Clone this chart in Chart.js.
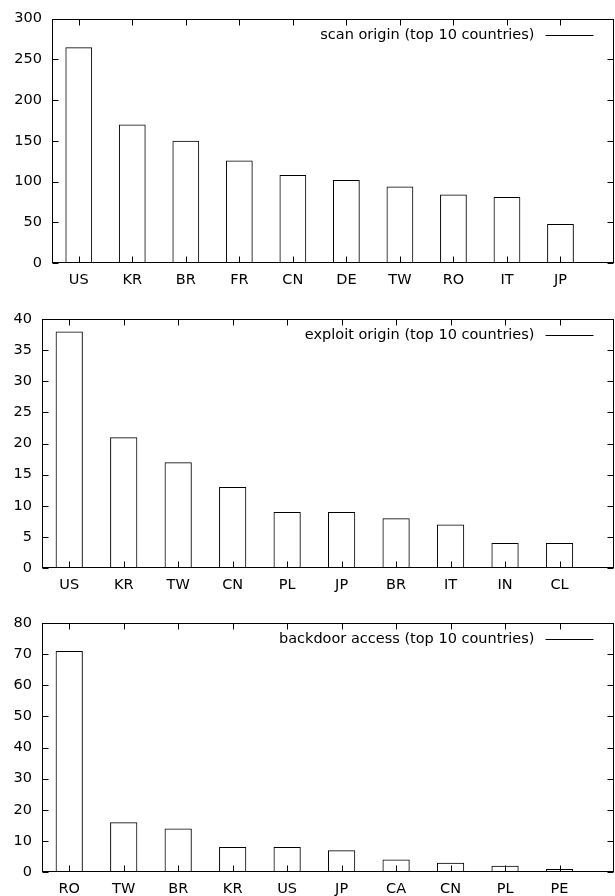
<!DOCTYPE html>
<html>
<head>
<meta charset="utf-8">
<script src="https://cdn.jsdelivr.net/npm/chart.js@4"></script>
<style>
body { margin: 0; background: #fff; }
#page { position: relative; width: 615px; height: 896px; overflow: hidden; }
.panel { position: absolute; left: 0; width: 615px; }
</style>
</head>
<body>
<div id="page">
	<div class="panel" style="top:0;height:290px"><canvas id="scan"></canvas></div>
	<div class="panel" style="top:300px;height:300px"><canvas id="exploit"></canvas></div>
	<div class="panel" style="top:600px;height:296px"><canvas id="backdoor"></canvas></div>
</div>
<script>
var scanCountries = ['US', 'KR', 'BR', 'FR', 'CN', 'DE', 'TW', 'RO', 'IT', 'JP'];
var scanCounts = [265, 170, 150, 126, 108, 102, 94, 84, 81, 48];
var scanTicks = [0, 50, 100, 150, 200, 250, 300];

var exploitCountries = ['US', 'KR', 'TW', 'CN', 'PL', 'JP', 'BR', 'IT', 'IN', 'CL'];
var exploitCounts = [38, 21, 17, 13, 9, 9, 8, 7, 4, 4];
var exploitTicks = [0, 5, 10, 15, 20, 25, 30, 35, 40];

var backdoorCountries = ['RO', 'TW', 'BR', 'KR', 'US', 'JP', 'CA', 'CN', 'PL', 'PE'];
var backdoorCounts = [71, 16, 14, 8, 8, 7, 4, 3, 2, 1];
var backdoorTicks = [0, 10, 20, 30, 40, 50, 60, 70, 80];

var FONT = { family: "'DejaVu Sans', sans-serif", size: 14.5 };

// gnuplot style frame: box border, inward mirrored ticks, key at top right
var frame = {
	id: 'frame',
	afterDatasetsDraw: function (chart) {
		var ctx = chart.ctx;
		var area = chart.chartArea;
		var xs = chart.scales.x, ys = chart.scales.y;
		var L = Math.round(area.left) + 0.5, R = Math.round(area.right) - 0.5;
		var T = Math.round(area.top) + 0.5, B = Math.round(area.bottom) - 0.5;
		var len = 6;

		ctx.save();
		ctx.strokeStyle = '#000';
		ctx.lineWidth = 1;
		ctx.strokeRect(L, T, R - L, B - T);

		ctx.beginPath();
		xs.ticks.forEach(function (t) {
			var px = Math.round(xs.getPixelForValue(t.value)) + 0.5;
			ctx.moveTo(px, B); ctx.lineTo(px, B - len);
			ctx.moveTo(px, T); ctx.lineTo(px, T + len);
		});
		ys.ticks.forEach(function (t) {
			var py = Math.round(ys.getPixelForValue(t.value)) + 0.5;
			ctx.moveTo(L, py); ctx.lineTo(L + len, py);
			ctx.moveTo(R, py); ctx.lineTo(R - len, py);
		});
		ctx.stroke();

		var ds = chart.data.datasets[0];
		var lineEnd = R - 20, lineStart = lineEnd - 48, ky = T + 15.5;
		ctx.beginPath();
		ctx.moveTo(lineStart, Math.round(ky) + 0.5);
		ctx.lineTo(lineEnd, Math.round(ky) + 0.5);
		ctx.strokeStyle = ds.borderColor;
		ctx.stroke();
		ctx.fillStyle = '#000';
		ctx.font = FONT.size + 'px ' + FONT.family;
		ctx.textAlign = 'right';
		ctx.textBaseline = 'middle';
		ctx.fillText(ds.label, lineStart - 11, ky);
		ctx.restore();
	}
};

function barChart(id, label, countries, counts, yTicks, yWidth, padTop, xHeight) {
	return new Chart(document.getElementById(id), {
		type: 'bar',
		data: {
			datasets: [{
				label: label,
				data: counts.map(function (v, i) { return { x: i, y: v }; }),
				backgroundColor: 'rgba(255,255,255,0)',
				borderColor: '#000',
				borderWidth: 1,
				inflateAmount: 0,
				barPercentage: 0.5,
				categoryPercentage: 1
			}]
		},
		options: {
			responsive: true,
			maintainAspectRatio: false,
			animation: false,
			events: [],
			layout: { padding: { top: padTop, right: 1, left: 0, bottom: 0 } },
			plugins: { legend: { display: false }, tooltip: { enabled: false } },
			scales: {
				x: {
					type: 'linear',
					offset: false,
					min: -0.5,
					max: countries.length,
					grid: { display: false, drawTicks: false },
					border: { display: false },
					afterBuildTicks: function (scale) {
						scale.ticks = countries.map(function (c, i) { return { value: i }; });
					},
					afterFit: function (scale) { scale.height = xHeight; },
					ticks: {
						autoSkip: false,
						maxRotation: 0,
						padding: 9,
						color: '#000',
						font: FONT,
						callback: function (v) { return countries[v]; }
					}
				},
				y: {
					min: yTicks[0],
					max: yTicks[yTicks.length - 1],
					grid: { display: false, drawTicks: false },
					border: { display: false },
					afterBuildTicks: function (scale) {
						scale.ticks = yTicks.map(function (v) { return { value: v }; });
					},
					afterFit: function (scale) { scale.width = yWidth; },
					ticks: { padding: 10, color: '#000', font: FONT }
				}
			}
		},
		plugins: [frame]
	});
}

barChart('scan', 'scan origin (top 10 countries)', scanCountries, scanCounts, scanTicks, 52, 15, 27);
barChart('exploit', 'exploit origin (top 10 countries)', exploitCountries, exploitCounts, exploitTicks, 42, 19, 32);
barChart('backdoor', 'backdoor access (top 10 countries)', backdoorCountries, backdoorCounts, backdoorTicks, 42, 23, 24);
</script>
</body>
</html>
